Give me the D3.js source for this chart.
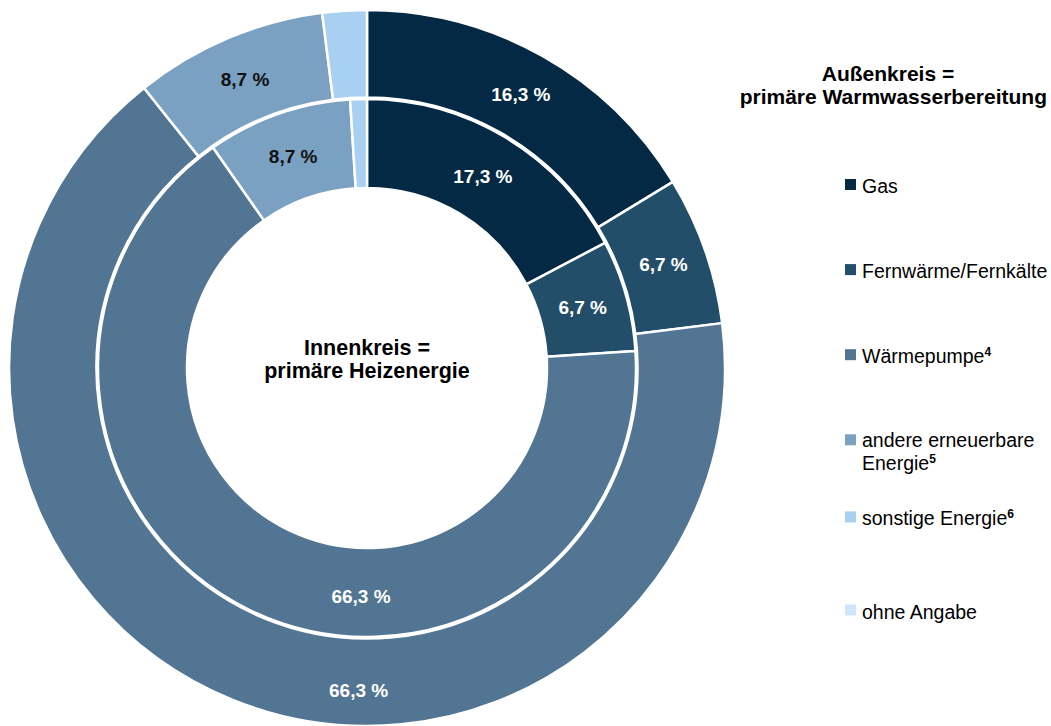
<!DOCTYPE html>
<html>
<head>
<meta charset="utf-8">
<script src="https://cdn.jsdelivr.net/npm/d3@7"></script>
<style>
  body { margin: 0; background: #fff; }
  svg { display: block; font-family: "Liberation Sans", Arial, sans-serif; }
</style>
</head>
<body>
<svg class="myChart" width="1051" height="726"></svg>
<script>
// categories, outer ring (Warmwasser) and inner ring (Heizenergie), in percent
const categories = ["Gas", "Fernwärme/Fernkälte", "Wärmepumpe", "andere erneuerbare Energie", "sonstige Energie", "ohne Angabe"];
const outerValues = [16.3, 6.7, 66.3, 8.7, 2.0, 0];
const innerValues = [17.3, 6.7, 66.3, 8.7, 1.0, 0];
const colors = ["#032944", "#224e6a", "#517592", "#7aa1c1", "#a9cff1", "#cfe5f9"];
const legendLines = [["Gas"], ["Fernwärme/Fernkälte"], ["Wärmepumpe", "4"], ["andere erneuerbare", "Energie", "5"], ["sonstige Energie", "6"], ["ohne Angabe"]];

const svg = d3.select("svg.myChart");
const cx = 367, cy = 368;

const de = d3.formatLocale({decimal: ",", thousands: ".", grouping: [3], currency: ["", " €"]});
const fmt = v => de.format(".1f")(v) + " %";

const pie = d3.pie().sort(null).value(d => d.value);

const rings = [
  {values: outerValues, inner: 270.5, outer: 358, labelR: 314, bigLabelR: 322},
  {values: innerValues, inner: 180, outer: 269, labelR: 224, bigLabelR: 228}
];

const g = svg.append("g").attr("transform", `translate(${cx},${cy})`);

rings.forEach(ring => {
  const data = categories.map((c, i) => ({cat: c, i: i, value: ring.values[i]}));
  const arcs = pie(data).filter(d => d.data.value > 0);
  const arc = d3.arc().innerRadius(ring.inner).outerRadius(ring.outer);

  g.append("g").selectAll("path")
    .data(arcs)
    .enter().append("path")
    .attr("d", arc)
    .attr("fill", d => colors[d.data.i])
    .attr("stroke", "#fff")
    .attr("stroke-width", 2.5)
    .attr("stroke-linejoin", "round");

  // labels for all but the tiny slices
  g.append("g").selectAll("text")
    .data(arcs.filter(d => d.data.value > 3))
    .enter().append("text")
    .attr("transform", d => {
      let a = (d.startAngle + d.endAngle) / 2, r = ring.labelR;
      if (d.data.i === 2) { a = Math.PI * 181.5 / 180; r = ring.bigLabelR; } // big slice label moved to bottom
      return `translate(${Math.sin(a) * r},${-Math.cos(a) * r})`;
    })
    .attr("text-anchor", "middle")
    .attr("dy", "0.36em")
    .attr("font-size", "19px")
    .attr("font-weight", "bold")
    .attr("fill", d => d.data.i === 3 ? "#111" : "#fff")
    .text(d => fmt(d.data.value));
});

// center text
const center = g.append("text")
  .attr("text-anchor", "middle")
  .attr("font-size", "21.5px")
  .attr("font-weight", "bold")
  .attr("fill", "#000");
center.append("tspan").attr("x", 0).attr("y", -13).text("Innenkreis =");
center.append("tspan").attr("x", 0).attr("y", 10).text("primäre Heizenergie");

// legend title
const title = svg.append("g")
  .attr("font-size", "21px")
  .attr("font-weight", "bold")
  .attr("fill", "#000");
title.append("text").attr("x", 888).attr("y", 81).attr("text-anchor", "middle").text("Außenkreis =");
title.append("text").attr("x", 1047).attr("y", 104).attr("text-anchor", "end").text("primäre Warmwasserbereitung");

// legend items
const ly = d3.scalePoint().domain(categories).range([184.5, 610]);
const leg = svg.append("g").selectAll("g")
  .data(categories)
  .enter().append("g")
  .attr("transform", (d, i) => `translate(845,${ly(d) + (i === 4 ? -8 : 0)})`);

leg.append("rect")
  .attr("x", 0).attr("y", -5.5)
  .attr("width", 11).attr("height", 11)
  .attr("fill", (d, i) => colors[i]);

leg.each(function(d, i) {
  const parts = legendLines[i];
  const t = d3.select(this).append("text")
    .attr("font-size", "19.5px")
    .attr("fill", "#000");
  if (parts.length === 3) {
    t.append("tspan").attr("x", 17).attr("y", 7).text(parts[0]);
    t.append("tspan").attr("x", 17).attr("y", 30).text(parts[1]);
    t.append("tspan").attr("dy", -7).attr("font-size", "12px").attr("font-weight", "bold").text(parts[2]);
  } else {
    t.append("tspan").attr("x", 17).attr("y", 8.5).text(parts[0]);
    if (parts[1]) t.append("tspan").attr("dy", -7).attr("font-size", "12px").attr("font-weight", "bold").text(parts[1]);
  }
});
</script>
</body>
</html>
